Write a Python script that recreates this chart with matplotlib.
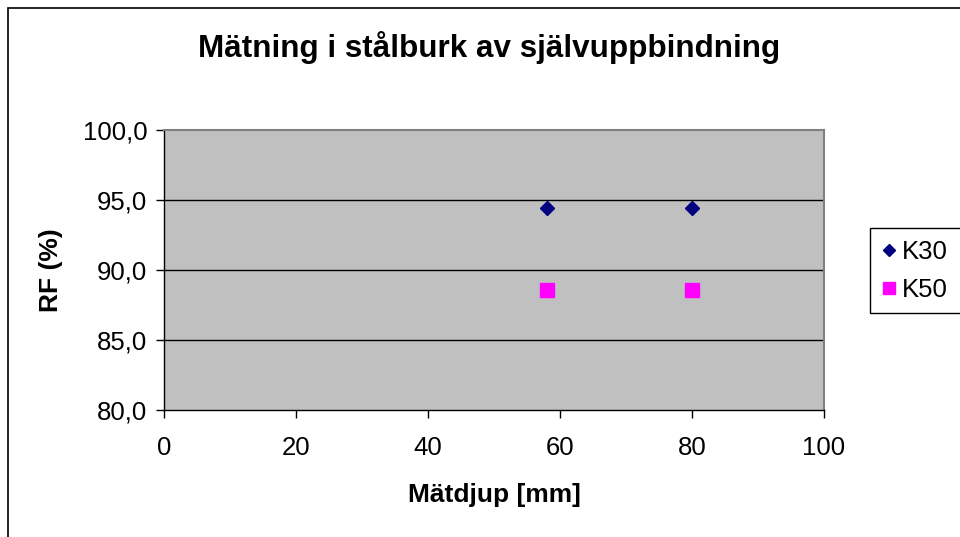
import matplotlib
matplotlib.use('Agg')
import matplotlib.pyplot as plt
from matplotlib.lines import Line2D
from matplotlib.patches import Rectangle
from matplotlib.ticker import FuncFormatter

plt.rcParams['font.family'] = ['Liberation Sans', 'DejaVu Sans']

# measurement depth [mm] and relative humidity [%]
depth = [58, 80]
k30 = [94.4, 94.4]
k50 = [88.6, 88.6]
series_names = ['K30', 'K50']

fig = plt.figure(figsize=(9.6, 5.37), dpi=100)
ax = fig.add_axes([164 / 960, 1 - 410 / 537, 660 / 960, 280 / 537])

# outer chart border, runs off the right and bottom edges
fig.patches.append(Rectangle((8 / 960, -0.1), 1.2, 1 - 8 / 537 + 0.1,
                             transform=fig.transFigure, fill=False,
                             edgecolor='black', linewidth=1.2))

ax.set_facecolor('#C0C0C0')
ax.plot(depth, k30, linestyle='none', marker='D', markersize=7,
        color='#000080', label=series_names[0], zorder=3)
ax.plot(depth, k50, linestyle='none', marker='s', markersize=10,
        color='#FF00FF', label=series_names[1], zorder=3)

ax.set_xlim(0, 100)
ax.set_ylim(80, 100)
ax.set_xticks(range(0, 101, 20))
ax.set_yticks(range(80, 101, 5))
ax.yaxis.set_major_formatter(FuncFormatter(lambda v, p: f'{v:.1f}'.replace('.', ',')))

for y in (85, 90, 95):
    ax.axhline(y, color='black', linewidth=1, zorder=1)

for side in ('top', 'right'):
    ax.spines[side].set_color('#808080')
    ax.spines[side].set_linewidth(1.5)
for side in ('left', 'bottom'):
    ax.spines[side].set_color('black')
    ax.spines[side].set_linewidth(1)

ax.tick_params(axis='both', direction='out', length=6, width=1,
               labelsize=18.5, colors='black')
ax.tick_params(axis='x', pad=13)
ax.tick_params(axis='y', pad=6)

ax.set_xlabel('Mätdjup [mm]', fontsize=19, fontweight='bold', labelpad=16)
ax.set_ylabel('RF (%)', fontsize=19, fontweight='bold', labelpad=14)
fig.text(489 / 960, 1 - 47 / 537, 'Mätning i stålburk av självuppbindning',
         ha='center', va='center', fontsize=22.6, fontweight='bold')

# legend box, also cut off at the right edge
fig.patches.append(Rectangle((870 / 960, 1 - 313 / 537), 0.2, 85 / 537,
                             transform=fig.transFigure, facecolor='white',
                             edgecolor='black', linewidth=1))
handles = [Line2D([], [], linestyle='none', marker='D', markersize=6,
                  color='#000080'),
           Line2D([], [], linestyle='none', marker='s', markersize=8.5,
                  color='#FF00FF')]
fig.legend(handles, series_names, loc='center left',
           bbox_to_anchor=(868 / 960, 1 - 271 / 537), frameon=False,
           fontsize=18.5, handlelength=0.6, handletextpad=0.2,
           labelspacing=0.55, borderpad=0)

fig.savefig('out.png', dpi=100)
